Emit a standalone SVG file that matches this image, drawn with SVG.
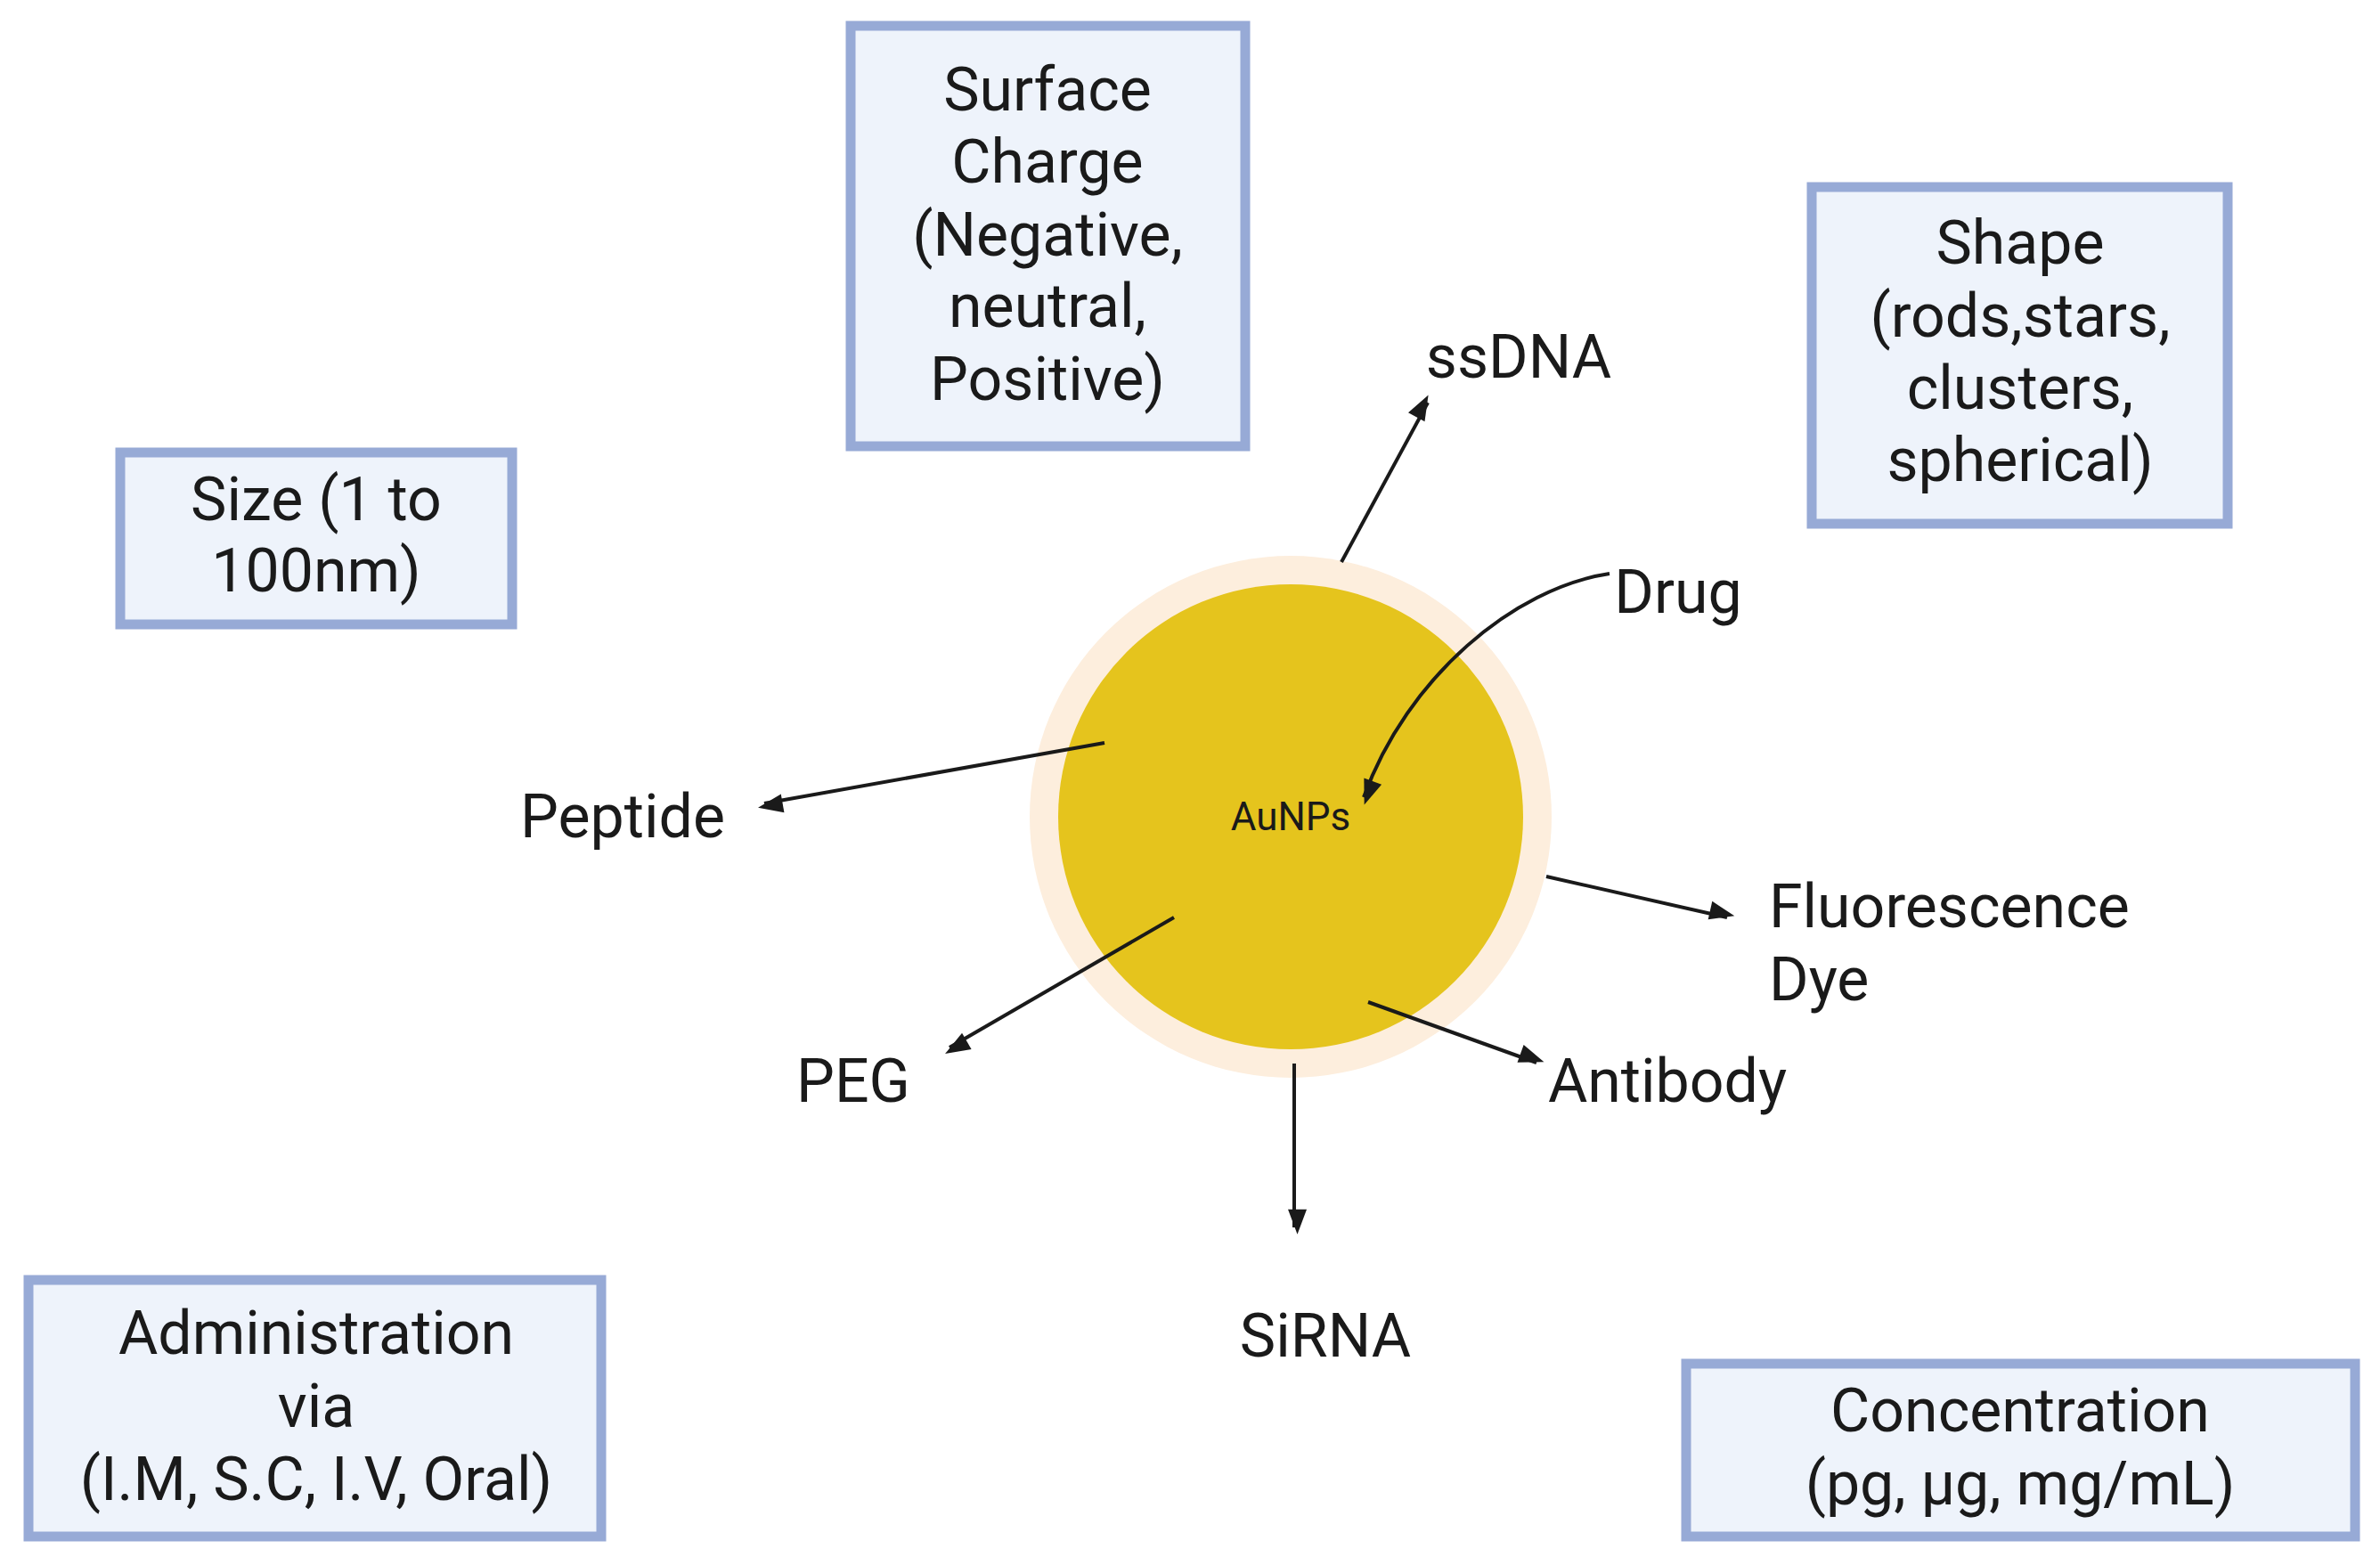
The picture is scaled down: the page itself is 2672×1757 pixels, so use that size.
<svg xmlns="http://www.w3.org/2000/svg" width="2672" height="1757" viewBox="0 0 2672 1757">
<style>
.box{fill:#eef3fb;stroke:#97aad6;stroke-width:11}
text{font-family:Roboto,"Liberation Sans",sans-serif;font-size:68px;fill:#1a1a1a;text-anchor:middle;dominant-baseline:central}
.l{text-anchor:start}
.c{fill:none;stroke:#1a1a1a;stroke-width:4}
</style>
<defs><marker id="ah" viewBox="0 0 10 10" refX="9" refY="5" markerWidth="7" markerHeight="7" markerUnits="userSpaceOnUse" orient="auto" style="overflow:visible"><path d="M0,0 L10,5 L0,10 Z" fill="#1a1a1a" transform="scale(4) translate(-5,-3.75) scale(1,0.75)"/></marker></defs>
<rect width="2672" height="1757" fill="#fff"/>
<g id="surface"><rect class="box" x="955" y="29" width="443" height="472"/><text x="1176" y="101">Surface</text><text x="1176" y="182">Charge</text><text x="1176" y="264">(Negative,</text><text x="1176" y="344">neutral,</text><text x="1176" y="426">Positive)</text></g>
<g id="shape"><rect class="box" x="2034" y="210" width="467" height="378"/><text x="2268" y="273">Shape</text><text x="2268" y="355">(rods,stars,</text><text x="2268" y="436">clusters,</text><text x="2268" y="517">spherical)</text></g>
<g id="size"><rect class="box" x="135" y="508" width="440" height="193"/><text x="355" y="561">Size (1 to</text><text x="355" y="641">100nm)</text></g>
<g id="admin"><rect class="box" x="32" y="1437" width="643" height="288"/><text x="355" y="1497">Administration</text><text x="355" y="1579">via</text><text x="355" y="1661">(I.M, S.C, I.V, Oral)</text></g>
<g id="conc"><rect class="box" x="1893" y="1531" width="751" height="194"/><text x="2268" y="1584">Concentration</text><text x="2268" y="1666">(pg, µg, mg/mL)</text></g>
<g id="aunp"><circle cx="1449" cy="917" r="293" fill="#fdeedd"/><circle cx="1449" cy="917" r="261" fill="#e5c41d"/><text x="1449" y="917" style="font-size:44px">AuNPs</text></g>
<g id="labels"><text x="1705" y="401">ssDNA</text><text x="1884" y="665">Drug</text><text x="699" y="917">Peptide</text><text class="l" x="1986" y="1018">Fluorescence</text><text class="l" x="1986" y="1100">Dye</text><text x="958" y="1214">PEG</text><text x="1872" y="1214">Antibody</text><text x="1488" y="1500">SiRNA</text></g>
<g id="connectors" marker-end="url(#ah)">
<line class="c" x1="1506" y1="631" x2="1603" y2="452" marker-end="url(#ah)"/>
<path class="c" d="M1807,644 C1700,660 1580,760 1531,895" marker-end="url(#ah)"/>
<line class="c" x1="1240" y1="834" x2="858" y2="902" marker-end="url(#ah)"/>
<line class="c" x1="1736" y1="984" x2="1939" y2="1030" marker-end="url(#ah)"/>
<line class="c" x1="1318" y1="1030" x2="1066" y2="1176" marker-end="url(#ah)"/>
<line class="c" x1="1536" y1="1125" x2="1725" y2="1193" marker-end="url(#ah)"/>
<line class="c" x1="1453" y1="1194" x2="1453" y2="1378" marker-end="url(#ah)"/>
</g>
</svg>
